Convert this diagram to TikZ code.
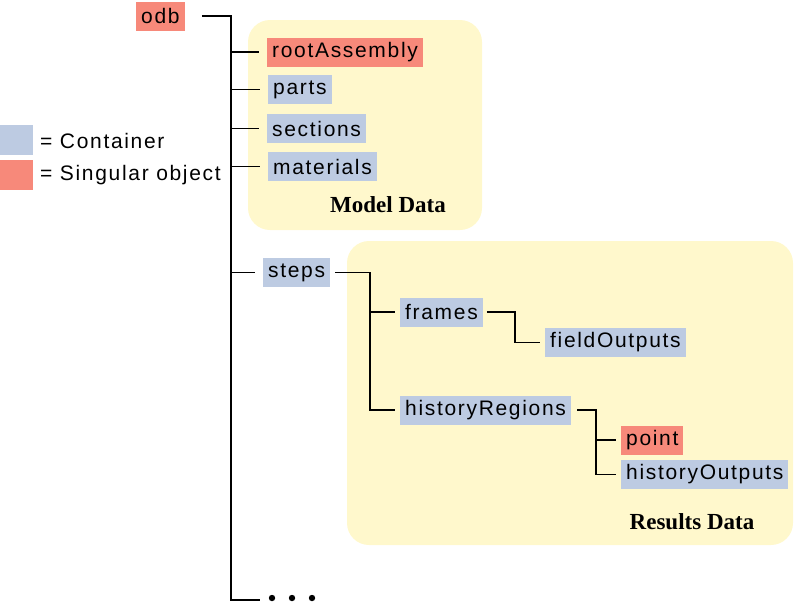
\documentclass[tikz,border=0pt]{standalone}
\usepackage{fontspec}
\setmainfont{Liberation Sans}[LetterSpace=8]
\newfontfamily\regionfont{Liberation Serif}
\usetikzlibrary{positioning}
\definecolor{singular}{HTML}{F7897A}
\definecolor{container}{HTML}{BDCBE2}
\definecolor{region}{HTML}{FFF8CC}
\tikzset{objnode/.style={anchor=west, minimum height=29pt, inner xsep=5pt, inner ysep=0pt, font=\fontsize{21}{25}\selectfont},
  contnode/.style={objnode, fill=container},
  singnode/.style={objnode, fill=singular},
  keybox/.style={anchor=north west, minimum width=33pt, minimum height=30pt, inner sep=0pt},
  keytext/.style={anchor=west, inner sep=0pt, font=\fontsize{21}{25}\selectfont},
  regionlabel/.style={font=\regionfont\bfseries\fontsize{23}{27}\selectfont},
  treeline/.style={line width=1.7pt, shorten >=5pt},}

\begin{document}
\begin{tikzpicture}[x=1pt, y=-1pt]
\useasboundingbox (0,0) rectangle (795,606);
% shaded groups
\fill[region, rounded corners=22pt] (248,20) rectangle (482,230);
\fill[region, rounded corners=22pt] (347,241) rectangle (793,545);
\node[regionlabel] (modeldata) at (388,205) {Model Data};
\node[regionlabel] (resultsdata) at (692,522) {Results Data};

% legend
\node[keybox, fill=container] (keycont) at (0,125) {};
\node[keybox, fill=singular] (keysing) at (0,160) {};
\node[keytext] (keycontlabel) at (40,141) {= Container};
\node[keytext] (keysinglabel) at (40,175) {= Singular object};

% objects
\node[singnode] (odb) at (136,16) {odb};
\node[singnode] (rootAssembly) at (267,52) {rootAssembly};
\node[contnode] (parts) at (268,89.5) {parts};
\node[contnode] (sections) at (267,128.5) {sections};
\node[contnode] (materials) at (268,166.5) {materials};
\node[contnode] (steps) at (263,272.5) {steps};
\node[contnode] (frames) at (400,312) {frames};
\node[contnode] (fieldOutputs) at (545,342.5) {fieldOutputs};
\node[contnode] (historyRegions) at (400,410) {historyRegions};
\node[singnode] (point) at (621,440) {point};
\node[contnode] (historyOutputs) at (621,474.5) {historyOutputs};

\coordinate (odbfork) at (231,16);
\coordinate (stepsfork) at (370,272.5);
\coordinate (framesfork) at (515,312);
\coordinate (regionsfork) at (596,410);
\coordinate (more) at (265,600);

% connectors
\draw[treeline, shorten <=17pt] (odb) -- (odbfork) |- (more);
\foreach \child in {rootAssembly,parts,sections,materials,steps}
  \draw[treeline, shorten >=8pt] (odbfork) |- (\child);
\draw[treeline, shorten <=5pt] (steps) -- (stepsfork) |- (historyRegions);
\draw[treeline] (stepsfork) |- (frames);
\draw[treeline, shorten <=4pt] (frames) -- (framesfork) |- (fieldOutputs);
\draw[treeline, shorten <=6pt] (historyRegions) -- (regionsfork) |- (historyOutputs);
\draw[treeline] (regionsfork) |- (point);
\foreach \x in {272,292,312}
  \fill (\x,598) circle (3.2pt);
\end{tikzpicture}
\end{document}
